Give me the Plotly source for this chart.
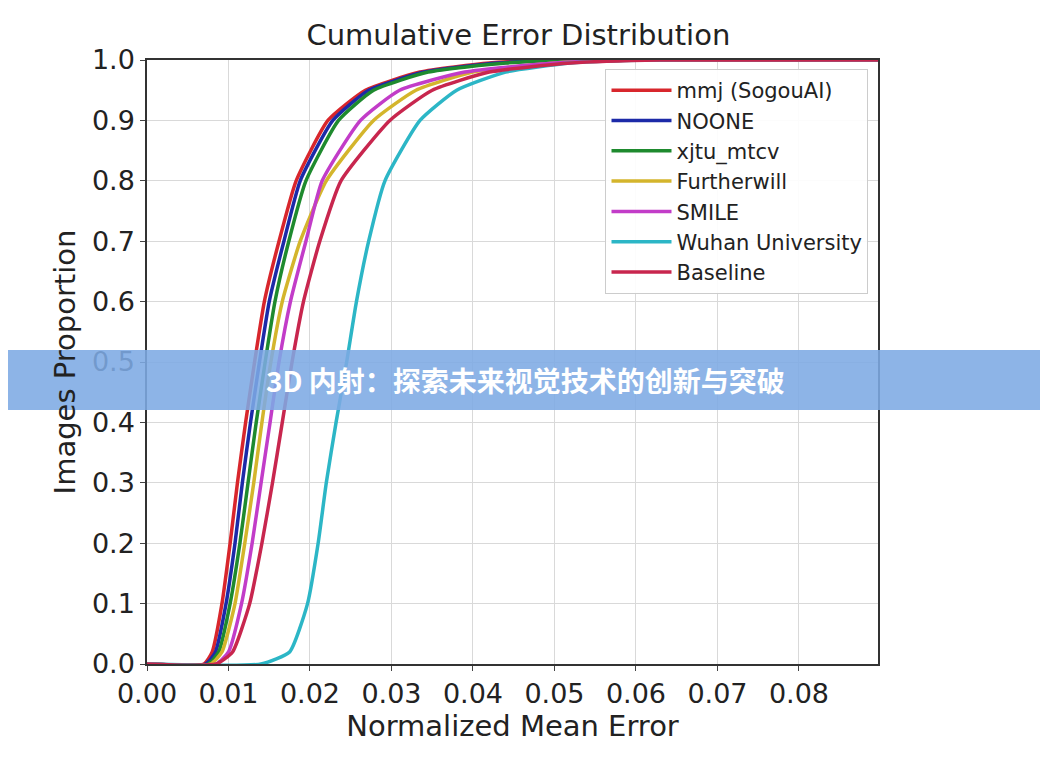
import plotly.graph_objects as go

y_levels = [0, 0.0, 0.02, 0.1, 0.2, 0.3, 0.4, 0.5, 0.6, 0.7, 0.8, 0.9, 0.95, 0.98, 0.995, 1.0, 1.0]
names = ["mmj (SogouAI)", "NOONE", "xjtu_mtcv", "Furtherwill", "SMILE", "Wuhan University", "Baseline"]
colors = ["#d8262c", "#1c2aa8", "#1e8a2e", "#d4b52c", "#c23cc8", "#2cb6c6", "#c8264e"]
x_series = {
    "mmj (SogouAI)":   [0, 0.0070, 0.0080, 0.0092, 0.0102, 0.0111, 0.0121, 0.0132, 0.0144, 0.0162, 0.0183, 0.0222, 0.0268, 0.0335, 0.042, 0.050, 0.09],
    "NOONE":           [0, 0.0072, 0.0084, 0.0097, 0.0108, 0.0117, 0.0127, 0.0138, 0.0150, 0.0168, 0.0188, 0.0228, 0.0272, 0.0340, 0.043, 0.052, 0.09],
    "xjtu_mtcv":       [0, 0.0075, 0.0088, 0.0102, 0.0114, 0.0124, 0.0134, 0.0145, 0.0157, 0.0174, 0.0195, 0.0235, 0.0278, 0.0345, 0.044, 0.053, 0.09],
    "Furtherwill":     [0, 0.0078, 0.0092, 0.0108, 0.0120, 0.0131, 0.0141, 0.0152, 0.0166, 0.0188, 0.0220, 0.0278, 0.0330, 0.0400, 0.050, 0.060, 0.09],
    "SMILE":           [0, 0.0085, 0.0100, 0.0116, 0.0129, 0.0140, 0.0151, 0.0162, 0.0176, 0.0195, 0.0215, 0.0262, 0.0310, 0.0390, 0.050, 0.060, 0.09],
    "Wuhan University":[0, 0.0140, 0.0175, 0.0197, 0.0210, 0.0220, 0.0232, 0.0245, 0.0257, 0.0272, 0.0292, 0.0335, 0.0380, 0.0440, 0.052, 0.062, 0.09],
    "Baseline":        [0, 0.0085, 0.0105, 0.0126, 0.0141, 0.0154, 0.0166, 0.0178, 0.0192, 0.0212, 0.0238, 0.0298, 0.0350, 0.0420, 0.052, 0.063, 0.09],
}
x_ticks = [0, 0.01, 0.02, 0.03, 0.04, 0.05, 0.06, 0.07, 0.08]
x_tick_labels = ["0.00", "0.01", "0.02", "0.03", "0.04", "0.05", "0.06", "0.07", "0.08"]
y_ticks = [i / 10 for i in range(11)]

fig = go.Figure()
for n, c in zip(names, colors):
    fig.add_trace(go.Scatter(x=x_series[n], y=y_levels, mode="lines", name=n,
                             line=dict(color=c, width=3.5, shape="spline", smoothing=0.5)))

F = "DejaVu Sans"
fig.update_layout(
    width=1048, height=760, paper_bgcolor="white", plot_bgcolor="white",
    margin=dict(l=139, r=178, t=52, b=104),
    font=dict(family=F, color="#222"),
    title=dict(text="Cumulative Error Distribution", x=0.487, xanchor="center",
               y=0.965, yanchor="middle",
               font=dict(size=29, family=F, color="#222")),
    xaxis=dict(range=[0, 0.0897], tickvals=x_ticks, ticktext=x_tick_labels,
               tickfont=dict(size=27), showgrid=True, gridcolor="#d9d9d9",
               showline=True, linecolor="#333", mirror=True, linewidth=1.5,
               ticks="outside", ticklen=5, zeroline=False,
               title=dict(text="Normalized Mean Error", font=dict(size=29), standoff=6)),
    yaxis=dict(range=[0, 1.0], tickvals=y_ticks, tickformat=".1f",
               tickfont=dict(size=27), showgrid=True, gridcolor="#d9d9d9",
               showline=True, linecolor="#333", mirror=True, linewidth=1.5,
               ticks="outside", ticklen=5, zeroline=False,
               title=dict(text="Images Proportion", font=dict(size=29), standoff=8)),
    legend=dict(x=0.987, y=0.985, xanchor="right", yanchor="top",
                bgcolor="rgba(255,255,255,0.9)", bordercolor="#ccc", borderwidth=1,
                font=dict(size=21), tracegroupgap=0, itemwidth=60),
    showlegend=True,
)
fig.add_shape(type="rect", xref="paper", yref="paper", x0=-0.25, x1=1.3, y0=0.4205, y1=0.5199,
              fillcolor="rgba(125,170,228,0.88)", line=dict(width=0), layer="above")
fig.add_annotation(text="<b>3D 内射：探索未来视觉技术的创新与突破</b>", xref="paper", yref="paper",
                   x=(525 - 147) / 731, y=0.47, showarrow=False,
                   font=dict(size=28, color="white", family="Noto Sans CJK SC"))
fig.write_html("out.html")
